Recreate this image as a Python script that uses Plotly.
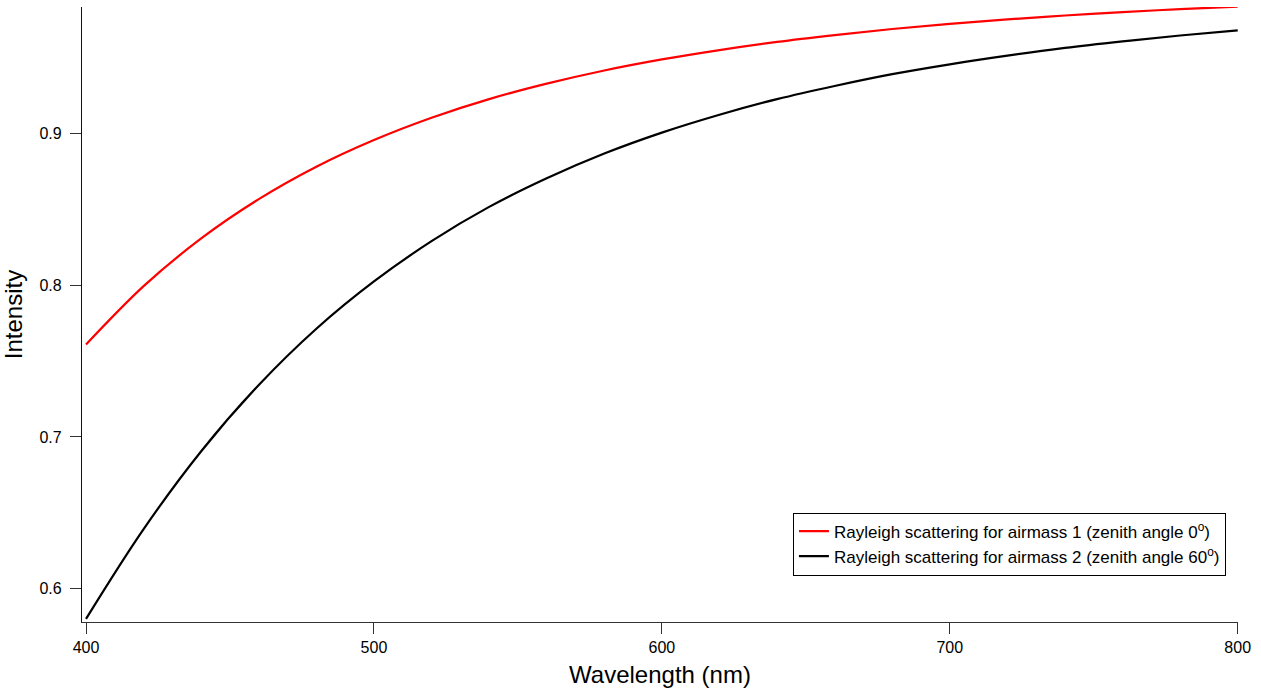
import plotly.graph_objects as go

wavelength_nm = [400, 420, 440, 460, 480, 500, 520, 540, 560, 580, 600,
                 620, 640, 660, 680, 700, 720, 740, 760, 780, 800]
intensity_airmass1 = [0.7610, 0.7995, 0.8310, 0.8569, 0.8783, 0.8959, 0.9106,
                      0.9229, 0.9331, 0.9418, 0.9491, 0.9553, 0.9607, 0.9652,
                      0.9692, 0.9726, 0.9755, 0.9781, 0.9803, 0.9823, 0.9840]
intensity_airmass2 = [0.5800, 0.6392, 0.6906, 0.7343, 0.7714, 0.8026, 0.8292,
                      0.8518, 0.8707, 0.8870, 0.9008, 0.9126, 0.9229, 0.9316,
                      0.9394, 0.9459, 0.9516, 0.9567, 0.9610, 0.9649, 0.9683]
series_names = ["Rayleigh scattering for airmass 1 (zenith angle 0<sup>o</sup>)",
                "Rayleigh scattering for airmass 2 (zenith angle 60<sup>o</sup>)"]
x_ticks = [400, 500, 600, 700, 800]
y_ticks = [0.6, 0.7, 0.8, 0.9]

FONT = "Liberation Sans, Arial, Helvetica, sans-serif"

fig = go.Figure()
fig.add_trace(go.Scatter(x=wavelength_nm, y=intensity_airmass1, mode="lines",
                         line=dict(color="#ff0000", width=2.2, shape="spline"),
                         name=series_names[0]))
fig.add_trace(go.Scatter(x=wavelength_nm, y=intensity_airmass2, mode="lines",
                         line=dict(color="#000000", width=2.2, shape="spline"),
                         name=series_names[1]))

fig.update_layout(
    width=1261, height=693,
    margin=dict(l=82, r=23, t=7, b=71),
    paper_bgcolor="white", plot_bgcolor="white",
    font=dict(family=FONT, color="black", size=16),
    showlegend=True,
    legend=dict(x=0.615, y=0.178, xanchor="left", yanchor="top",
                bordercolor="black", borderwidth=1, bgcolor="white",
                font=dict(family=FONT, size=17, color="black"),
                tracegroupgap=0, itemwidth=30),
)
fig.update_xaxes(range=[398.6, 800.1], tickvals=x_ticks,
                 ticktext=[str(v) for v in x_ticks],
                 showgrid=False, zeroline=False, showline=True,
                 linecolor="#333333", linewidth=1.2,
                 ticks="outside", ticklen=11, tickwidth=1.2, tickcolor="#333333",
                 tickfont=dict(size=16),
                 title=dict(text="Wavelength (nm)", font=dict(size=24), standoff=10))
fig.update_yaxes(range=[0.5779, 0.9837], tickvals=y_ticks,
                 ticktext=[f"{v:.1f}" for v in y_ticks],
                 showgrid=False, zeroline=False, showline=True,
                 linecolor="#111111", linewidth=1.2,
                 ticks="outside", ticklen=11, tickwidth=1.2, tickcolor="#333333",
                 tickfont=dict(size=16), ticklabelstandoff=5,
                 title=dict(text="Intensity", font=dict(size=24), standoff=10))

fig.write_html("out.html", config={"displayModeBar": False},
               post_script="document.body.style.margin='0';")
